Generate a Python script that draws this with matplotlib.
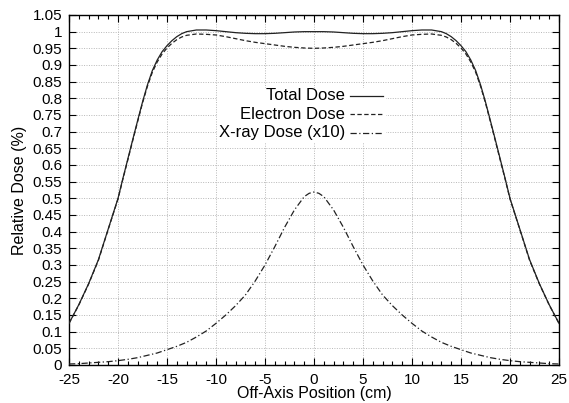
import matplotlib
matplotlib.use("Agg")
import matplotlib.pyplot as plt
from matplotlib import font_manager
from matplotlib.ticker import MultipleLocator, FuncFormatter
from matplotlib.patches import Rectangle

# positions hors-axe (cm) pour les doses totale / electrons
pos = [-25, -24, -23, -22, -21, -20, -19.5, -19, -18.5, -18, -17.5, -17, -16.5,
       -16, -15.5, -15, -14.5, -14, -13.5, -13, -12, -11, -10, -9, -8, -7, -6,
       -5, -4, -3, -2, -1, 0, 1, 2, 3, 4, 5, 6, 7, 8, 9, 10, 11, 12, 13, 13.5,
       14, 14.5, 15, 15.5, 16, 16.5, 17, 17.5, 18, 18.5, 19, 19.5, 20, 21, 22,
       23, 24, 25]

dose_totale = [0.125, 0.181, 0.244, 0.316, 0.408, 0.500, 0.560, 0.618, 0.676,
               0.733, 0.789, 0.840, 0.883, 0.915, 0.940, 0.958, 0.973, 0.985,
               0.994, 1.000, 1.005, 1.005, 1.003, 1.000, 0.997, 0.995, 0.994,
               0.994, 0.995, 0.997, 0.999, 1.000, 1.000, 1.000, 0.999, 0.997,
               0.995, 0.994, 0.994, 0.995, 0.997, 1.000, 1.003, 1.005, 1.005,
               1.000, 0.994, 0.985, 0.973, 0.958, 0.940, 0.915, 0.883, 0.840,
               0.789, 0.733, 0.676, 0.618, 0.560, 0.500, 0.408, 0.316, 0.244,
               0.181, 0.125]

dose_electrons = [0.125, 0.180, 0.243, 0.314, 0.407, 0.498, 0.558, 0.615,
                  0.673, 0.730, 0.786, 0.836, 0.878, 0.909, 0.933, 0.951,
                  0.965, 0.976, 0.984, 0.989, 0.993, 0.992, 0.990, 0.985,
                  0.979, 0.973, 0.968, 0.964, 0.960, 0.956, 0.953, 0.951,
                  0.950, 0.951, 0.953, 0.956, 0.960, 0.964, 0.968, 0.973,
                  0.979, 0.985, 0.990, 0.992, 0.993, 0.989, 0.984, 0.976,
                  0.965, 0.951, 0.933, 0.909, 0.878, 0.836, 0.786, 0.730,
                  0.673, 0.615, 0.558, 0.498, 0.407, 0.314, 0.243, 0.180,
                  0.125]

# dose X (x10)
pos_x = [-25, -24, -23, -22, -21, -20, -19, -18, -17, -16, -15, -14, -13, -12,
         -11, -10, -9, -8, -7, -6, -5, -4, -3, -2, -1, -0.5, 0, 0.5, 1, 2, 3,
         4, 5, 6, 7, 8, 9, 10, 11, 12, 13, 14, 15, 16, 17, 18, 19, 20, 21, 22,
         23, 24, 25]
dose_x10 = [0.003, 0.004, 0.006, 0.008, 0.010, 0.013, 0.017, 0.022, 0.029,
            0.036, 0.046, 0.056, 0.068, 0.084, 0.102, 0.125, 0.150, 0.178,
            0.210, 0.252, 0.300, 0.355, 0.413, 0.465, 0.505, 0.515, 0.519,
            0.515, 0.505, 0.465, 0.413, 0.355, 0.300, 0.252, 0.210, 0.178,
            0.150, 0.125, 0.102, 0.084, 0.068, 0.056, 0.046, 0.036, 0.029,
            0.022, 0.017, 0.013, 0.010, 0.008, 0.006, 0.004, 0.003]

# on ecarte la variante Narrow pour avoir la Liberation Sans normale
font_manager.fontManager.ttflist = [f for f in font_manager.fontManager.ttflist
                                    if 'Narrow' not in f.fname]
plt.rcParams['font.family'] = ['Liberation Sans', 'DejaVu Sans']
plt.rcParams['font.size'] = 12

fig = plt.figure(figsize=(5.69, 4.03), dpi=100)
ax = fig.add_axes([0.1213, 0.0943, 0.8611, 0.8685])

couleur = '#222222'
ax.plot(pos, dose_totale, color=couleur, lw=0.9, ls='-', zorder=3)
ax.plot(pos, dose_electrons, color=couleur, lw=0.9, dashes=(3.5, 2), zorder=3)
ax.plot(pos_x, dose_x10, color=couleur, lw=0.9, dashes=(5, 2, 1, 2), zorder=3)

ax.set_xlim(-25, 25)
ax.set_ylim(0, 1.05)
ax.xaxis.set_major_locator(MultipleLocator(5))
ax.xaxis.set_minor_locator(MultipleLocator(1))
ax.yaxis.set_major_locator(MultipleLocator(0.05))
fmt = FuncFormatter(lambda v, p: '%g' % round(v, 2))
ax.xaxis.set_major_formatter(fmt)
ax.yaxis.set_major_formatter(fmt)
ax.tick_params(which='both', direction='in', top=True, right=True, width=0.8,
               colors='black', labelsize=11)
ax.tick_params(which='major', length=5)
ax.tick_params(which='minor', length=3)
ax.tick_params(axis='x', pad=5.5)
ax.tick_params(axis='y', pad=5)
ax.grid(True, which='major', color='#b8b8b8', lw=0.7, ls=(0, (1, 1.5)))
for s in ax.spines.values():
    s.set_linewidth(1.0)

ax.set_xlabel('Off-Axis Position (cm)', fontsize=11.5, labelpad=-0.5)
ax.set_ylabel('Relative Dose (%)', fontsize=11.5, labelpad=4)

# legende facon gnuplot : texte a droite aligne, echantillon a droite
ax.add_patch(Rectangle((0.302, 0.637), 0.345, 0.154, transform=ax.transAxes,
                       facecolor='white', edgecolor='none', zorder=2.5))
noms = ['Total Dose', 'Electron Dose', 'X-ray Dose (x10)']
styles = [dict(ls='-'), dict(dashes=(3.5, 2)), dict(dashes=(5, 2, 1, 2))]
rangs = [0.769, 0.716, 0.664]
for nom, st, yy in zip(noms, styles, rangs):
    ax.text(0.563, yy, nom, transform=ax.transAxes, ha='right', va='center',
            zorder=4)
    ax.plot([0.574, 0.641], [yy, yy], transform=ax.transAxes, color=couleur,
            lw=0.9, zorder=4, **st)

fig.savefig('out.png', dpi=100)
